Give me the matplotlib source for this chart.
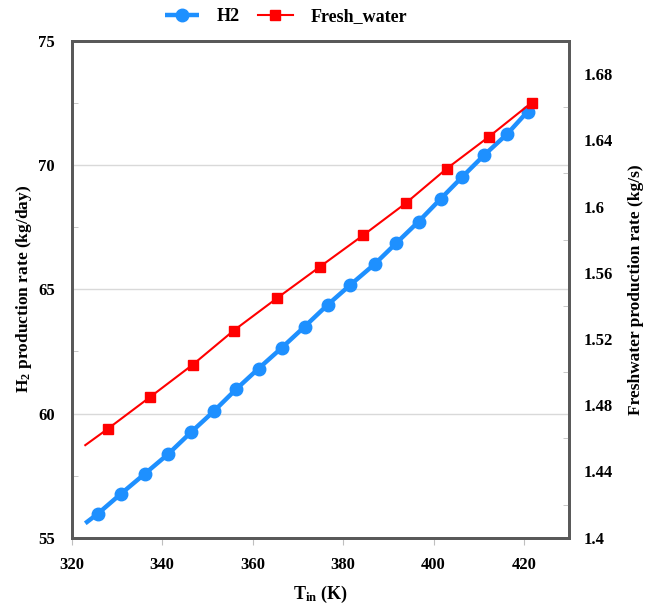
import numpy as np
import matplotlib
matplotlib.use("Agg")
import matplotlib.pyplot as plt
from matplotlib.ticker import MultipleLocator, FixedLocator, FuncFormatter

plt.rcParams['font.family'] = 'Liberation Serif'
plt.rcParams['font.weight'] = 'bold'
plt.rcParams['mathtext.fontset'] = 'custom'
plt.rcParams['mathtext.rm'] = 'Liberation Serif:bold'
plt.rcParams['mathtext.it'] = 'Liberation Serif:bold:italic'
plt.rcParams['mathtext.bf'] = 'Liberation Serif:bold'

# inlet temperature (K) vs H2 production (kg/day)
t_h2 = [323.0, 325.8, 330.9, 336.2, 341.4, 346.4, 351.4, 356.3, 361.3, 366.4, 371.5,
        376.6, 381.6, 387.0, 391.8, 396.7, 401.6, 406.3, 411.1, 416.3, 420.8]
h2 = [55.58, 55.97, 56.77, 57.58, 58.38, 59.25, 60.09, 60.97, 61.81, 62.64, 63.50,
      64.38, 65.18, 66.02, 66.87, 67.73, 68.65, 69.52, 70.39, 71.26, 72.16]

# inlet temperature (K) vs freshwater production (kg/s)
t_fw = [323.0, 328.0, 337.3, 346.8, 355.8, 365.3, 374.8, 384.4, 393.8, 402.9, 412.3, 421.7]
fw = [1.4559, 1.4658, 1.4849, 1.5046, 1.5251, 1.5445, 1.5635, 1.5826, 1.6019, 1.6229,
      1.6423, 1.6628]

spine_col = '#595959'
tick_col = '#bfbfbf'

fig = plt.figure(figsize=(6.59, 6.10), dpi=100)
ax = fig.add_axes([0.1088, 0.1185, 0.755, 0.8143])
ax2 = ax.twinx()

l1, = ax.plot(t_h2, h2, color='#1E90FF', lw=3.2, marker='o', ms=9,
              markevery=list(range(1, len(t_h2))), label='H2', solid_capstyle='butt')
l2, = ax2.plot(t_fw, fw, color='#FF0000', lw=1.5, marker='s', ms=7,
               markevery=list(range(1, len(t_fw))), label='Fresh_water')

ax.set_xlim(320, 430)
ax.set_ylim(55, 75)
ax2.set_ylim(1.4, 1.7)

ax.xaxis.set_major_locator(FixedLocator([320, 340, 360, 380, 400, 420]))
ax.yaxis.set_major_locator(MultipleLocator(5))
ax.yaxis.set_minor_locator(MultipleLocator(2.5))
ax.grid(axis='y', color='#d9d9d9', lw=1)
ax.set_axisbelow(True)

ax2.yaxis.set_major_locator(FixedLocator(np.arange(1.4, 1.681, 0.04)))
ax2.yaxis.set_minor_locator(FixedLocator(np.arange(1.42, 1.70, 0.04)))
ax2.yaxis.set_major_formatter(FuncFormatter(lambda v, p: '%g' % round(v, 2)))

ax.tick_params(axis='x', which='major', direction='out', length=5, color=tick_col,
               labelsize=12, pad=9)
ax.tick_params(axis='y', which='major', length=0, labelsize=12, pad=12)
ax.tick_params(axis='y', which='minor', direction='in', length=4, color=tick_col)
ax2.tick_params(axis='y', which='major', length=0, labelsize=12, pad=10)
ax2.tick_params(axis='y', which='minor', direction='in', length=4, color=tick_col)

for a in (ax, ax2):
    for s in a.spines.values():
        s.set_color(spine_col)
        s.set_linewidth(2)

ax.set_xlabel('T$_{\\mathrm{in}}$ (K)', fontsize=13, fontweight='bold', labelpad=8)
ax.set_ylabel('H$_2$ production rate (kg/day)', fontsize=12.5, fontweight='bold', labelpad=3)
ax2.set_ylabel('Freshwater production rate (kg/s)', fontsize=12.5, fontweight='bold',
               rotation=90, labelpad=11)

fig.legend(handles=[l1, l2], loc='center', bbox_to_anchor=(0.434, 0.973), ncol=2,
           frameon=False, fontsize=13, handlelength=1.9, columnspacing=1.0,
           handletextpad=1.0)

fig.savefig('out.png', dpi=100)
